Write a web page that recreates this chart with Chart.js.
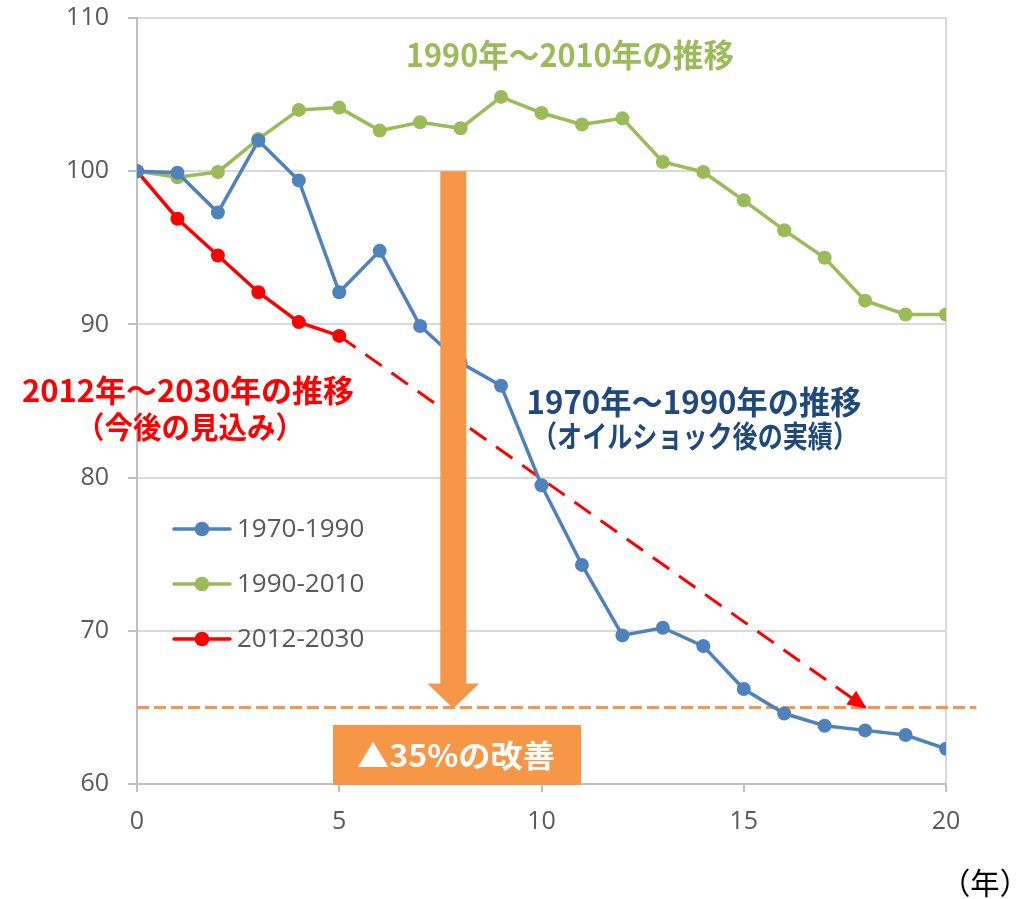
<!DOCTYPE html>
<html>
<head>
<meta charset="utf-8">
<script src="https://cdn.jsdelivr.net/npm/chart.js@4/dist/chart.umd.min.js"></script>
<style>
  html, body { margin: 0; padding: 0; background: #ffffff; }
  #c { display: block; }
</style>
</head>
<body>
<canvas id="c" width="1022" height="899"></canvas>
<script>
// Elapsed years from each period's base year (index: base year = 100)
const years = [0, 1, 2, 3, 4, 5, 6, 7, 8, 9, 10, 11, 12, 13, 14, 15, 16, 17, 18, 19, 20];
const series1970 = [100, 99.9, 97.3, 102.0, 99.4, 92.1, 94.8, 89.9, 87.5, 86.0, 79.5, 74.3, 69.7, 70.2, 69.0, 66.2, 64.6, 63.8, 63.5, 63.2, 62.3];
const series1990 = [100, 99.6, 99.95, 102.1, 104.0, 104.15, 102.65, 103.2, 102.8, 104.85, 103.8, 103.05, 103.45, 100.6, 99.95, 98.1, 96.15, 94.35, 91.55, 90.65, 90.65];
const years2012 = [0, 1, 2, 3, 4, 5];
const series2012 = [100, 96.9, 94.5, 92.1, 90.15, 89.25];
const seriesLabels = ['1970-1990', '1990-2010', '2012-2030'];

// Outlook: 35% improvement from the base index, reached in year 18
const baseIndex = 100;
const improvementPct = 35;
const targetIndex = baseIndex * (1 - improvementPct / 100);
const trendYears = [years2012[years2012.length - 1], 18];
const trendValues = [series2012[series2012.length - 1], targetIndex];

const xTicks = [0, 5, 10, 15, 20];
const yTicks = [60, 70, 80, 90, 100, 110];

const titleTexts = {
  green: '1990年～2010年の推移',
  red1: '2012年～2030年の推移',
  red2: '（今後の見込み）',
  blue1: '1970年～1990年の推移',
  blue2: '（オイルショック後の実績）',
  badge: '▲' + improvementPct + '%の改善',
  unit: '（年）'
};

const COLORS = {
  blue: '#4F81BD',
  green: '#9BBB59',
  red: '#FF0000',
  orange: '#F79646',
  navy: '#1F497D',
  tick: '#595959',
  grid: '#D9D9D9',
  axis: '#BFBFBF'
};

const JP = '"Noto Sans CJK JP", "Noto Sans", sans-serif';
const LATIN = '"Open Sans", "Noto Sans", sans-serif';

function toPoints(xs, ys) {
  return xs.map((x, i) => ({ x: x, y: ys[i] }));
}

function seriesDataset(label, xs, ys, color) {
  return {
    label: label,
    data: toPoints(xs, ys),
    borderColor: color,
    backgroundColor: color,
    borderWidth: 3.5,
    pointRadius: 7,
    pointHoverRadius: 7,
    pointBorderWidth: 0,
    pointBackgroundColor: color,
    tension: 0
  };
}

// Text drawn at a fixed width (condensed/expanded horizontally)
function drawFitted(ctx, text, cx, cy, font, color, width) {
  ctx.save();
  ctx.font = font;
  ctx.fillStyle = color;
  ctx.textAlign = 'center';
  ctx.textBaseline = 'middle';
  const w = ctx.measureText(text).width;
  const s = width ? width / w : 1;
  ctx.translate(cx, cy);
  ctx.scale(s, 1);
  ctx.fillText(text, 0, 0);
  ctx.restore();
}

const overlayPlugin = {
  id: 'overlay',
  beforeDatasetsDraw(chart) {
    const { ctx, scales: { x, y } } = chart;
    // dashed target level, running slightly past the plot's right edge
    const ty = y.getPixelForValue(targetIndex);
    ctx.save();
    ctx.strokeStyle = COLORS.orange;
    ctx.lineWidth = 3;
    ctx.setLineDash([12, 5]);
    ctx.beginPath();
    ctx.moveTo(x.getPixelForValue(0), ty);
    ctx.lineTo(x.getPixelForValue(20.75), ty);
    ctx.stroke();
    ctx.restore();
  },
  afterDatasetsDraw(chart) {
    const { ctx, scales: { x, y } } = chart;

    // arrowhead at the end of the dashed outlook line
    const pts = chart.getDatasetMeta(3).data;
    const p0 = pts[0], p1 = pts[pts.length - 1];
    const ang = Math.atan2(p1.y - p0.y, p1.x - p0.x);
    ctx.save();
    ctx.translate(p1.x, p1.y);
    ctx.rotate(ang);
    ctx.fillStyle = COLORS.red;
    ctx.beginPath();
    ctx.moveTo(2, 0);
    ctx.lineTo(-17, -8.5);
    ctx.lineTo(-17, 8.5);
    ctx.closePath();
    ctx.fill();
    ctx.restore();

    // big downward arrow from the base index to the target
    const ax = x.getPixelForValue(7.82);
    const topY = y.getPixelForValue(baseIndex);
    const tipY = y.getPixelForValue(targetIndex) + 1;
    const headH = 25, headHalf = 26, shaftHalf = 13;
    ctx.save();
    ctx.fillStyle = COLORS.orange;
    ctx.beginPath();
    ctx.moveTo(ax - shaftHalf, topY);
    ctx.lineTo(ax + shaftHalf, topY);
    ctx.lineTo(ax + shaftHalf, tipY - headH);
    ctx.lineTo(ax + headHalf, tipY - headH);
    ctx.lineTo(ax, tipY);
    ctx.lineTo(ax - headHalf, tipY - headH);
    ctx.lineTo(ax - shaftHalf, tipY - headH);
    ctx.closePath();
    ctx.fill();

    // improvement badge
    ctx.fillRect(333, 725, 248, 60);
    ctx.restore();
    drawFitted(ctx, titleTexts.badge, 456, 755, 'bold 31px ' + JP, '#FFFFFF', 198);

    // period titles
    drawFitted(ctx, titleTexts.green, 570, 55, 'bold 32px ' + JP, COLORS.green, 328);
    drawFitted(ctx, titleTexts.red1, 188, 390, 'bold 31px ' + JP, COLORS.red, 332);
    drawFitted(ctx, titleTexts.red2, 190, 427, 'bold 30px ' + JP, COLORS.red, 228);
    drawFitted(ctx, titleTexts.blue1, 694, 402, 'bold 32px ' + JP, COLORS.navy, 335);
    drawFitted(ctx, titleTexts.blue2, 695, 436, 'bold 30px ' + JP, COLORS.navy, 326);

    // unit label for the time axis
    drawFitted(ctx, titleTexts.unit, 985, 883, '30px ' + JP, '#000000', 88);

    // legend
    const rows = [529, 584, 639];
    chart.data.datasets.slice(0, 3).forEach((ds, i) => {
      const ry = rows[i];
      ctx.save();
      ctx.strokeStyle = ds.borderColor;
      ctx.lineWidth = 3.5;
      ctx.lineCap = 'round';
      ctx.beginPath();
      ctx.moveTo(174, ry);
      ctx.lineTo(230, ry);
      ctx.stroke();
      ctx.fillStyle = ds.borderColor;
      ctx.beginPath();
      ctx.arc(202, ry, 7.3, 0, Math.PI * 2);
      ctx.fill();
      ctx.font = '26px ' + LATIN;
      ctx.fillStyle = COLORS.tick;
      ctx.textAlign = 'left';
      ctx.textBaseline = 'middle';
      ctx.fillText(ds.label, 237, ry + 1);
      ctx.restore();
    });
  }
};

new Chart(document.getElementById('c'), {
  type: 'line',
  data: {
    datasets: [
      seriesDataset(seriesLabels[0], years, series1970, COLORS.blue),
      seriesDataset(seriesLabels[1], years, series1990, COLORS.green),
      seriesDataset(seriesLabels[2], years2012, series2012, COLORS.red),
      {
        label: 'outlook',
        data: toPoints(trendYears, trendValues),
        borderColor: COLORS.red,
        borderWidth: 3,
        borderDash: [20, 12],
        pointRadius: 0,
        pointHoverRadius: 0,
        fill: false
      }
    ]
  },
  options: {
    responsive: false,
    animation: false,
    devicePixelRatio: 1,
    layout: { padding: { top: 18, right: 76, left: 0, bottom: 0 } },
    plugins: {
      legend: { display: false },
      tooltip: { enabled: false }
    },
    scales: {
      x: {
        type: 'linear',
        min: xTicks[0],
        max: xTicks[xTicks.length - 1],
        afterBuildTicks(scale) { scale.ticks = xTicks.map(v => ({ value: v })); },
        afterFit(scale) { scale.height = 115; scale.paddingLeft = 0; scale.paddingRight = 0; },
        border: { color: COLORS.axis, width: 2 },
        grid: {
          color: (c) => (c.tick && c.tick.value === xTicks[xTicks.length - 1]) ? COLORS.grid : 'rgba(0,0,0,0)',
          lineWidth: 2,
          tickColor: COLORS.axis,
          tickLength: 8,
          drawOnChartArea: true
        },
        ticks: {
          padding: 15,
          maxRotation: 0,
          autoSkip: false,
          color: COLORS.tick,
          font: { family: LATIN, size: 25 }
        }
      },
      y: {
        min: yTicks[0],
        max: yTicks[yTicks.length - 1],
        afterBuildTicks(scale) { scale.ticks = yTicks.map(v => ({ value: v })); },
        afterFit(scale) { scale.width = 137; scale.paddingTop = 0; scale.paddingBottom = 0; },
        border: { color: COLORS.axis, width: 2 },
        grid: {
          color: COLORS.grid,
          lineWidth: 2,
          tickColor: COLORS.axis,
          tickLength: 9
        },
        ticks: {
          padding: 19,
          autoSkip: false,
          color: COLORS.tick,
          font: { family: LATIN, size: 25 }
        }
      }
    }
  },
  plugins: [overlayPlugin]
});
</script>
</body>
</html>
